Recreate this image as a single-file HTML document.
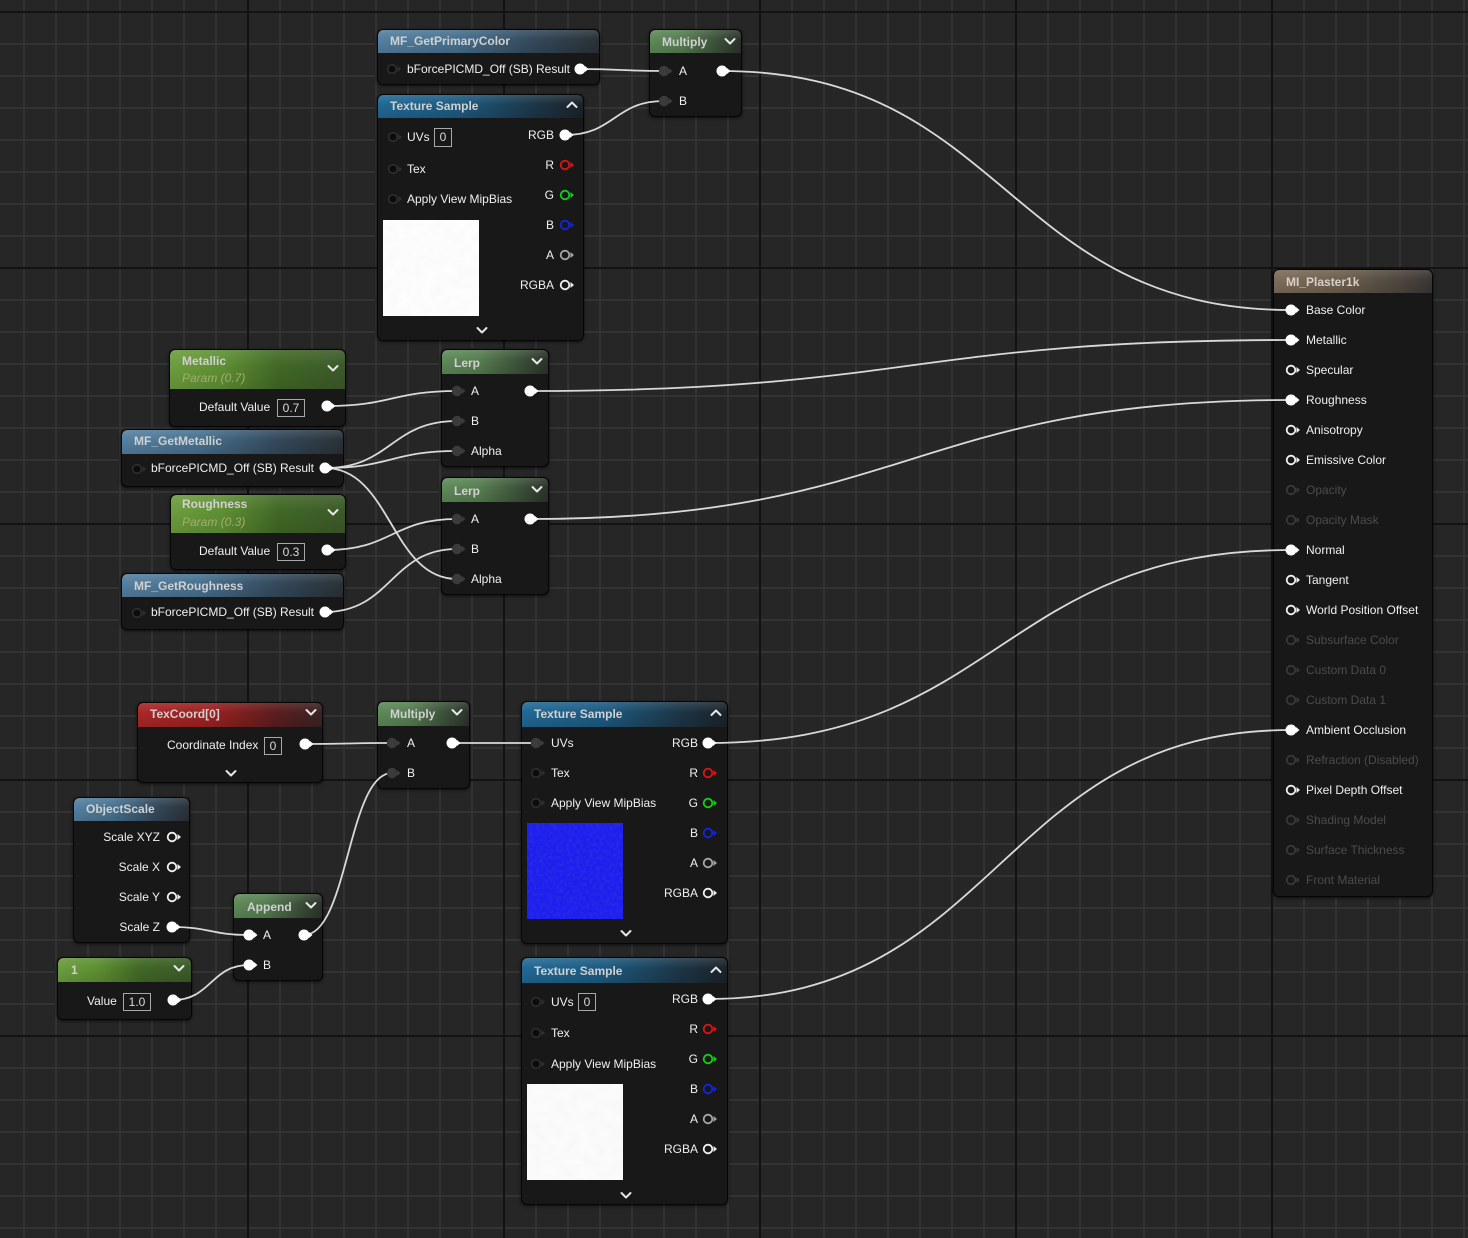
<!DOCTYPE html>
<html><head><meta charset="utf-8"><style>
*{box-sizing:border-box}
body{margin:0;width:1468px;height:1238px;overflow:hidden;position:relative;font-family:"Liberation Sans",sans-serif;
background-color:#262626;
background-image:
linear-gradient(to right,#131313 0,#131313 2px,transparent 2px),
linear-gradient(to bottom,#131313 0,#131313 2px,transparent 2px),
linear-gradient(to right,#333333 0,#333333 2px,transparent 2px),
linear-gradient(to bottom,#333333 0,#333333 2px,transparent 2px);
background-size:256px 256px,256px 256px,32px 32px,32px 32px;
background-position:247px 0,0 11px,23px 0,0 11px;}
.n{position:absolute;background:#171817;border:1px solid #060606;border-radius:6px;box-shadow:0 1px 3px rgba(0,0,0,.7);overflow:hidden}
.h{position:absolute;left:0;top:0;right:0;border-radius:5px 5px 0 0}
.hb{background:linear-gradient(180deg,rgba(255,255,255,.12),rgba(255,255,255,0) 40%,rgba(0,0,0,.12)),linear-gradient(90deg,#55809f 0%,#47718f 35%,#344a5c 70%,#2b3138 100%)}
.ht{background:linear-gradient(180deg,rgba(255,255,255,.12),rgba(255,255,255,0) 40%,rgba(0,0,0,.12)),linear-gradient(90deg,#216996 0%,#1d5a80 40%,#1d3546 78%,#1b2329 100%)}
.hg{background:linear-gradient(180deg,rgba(255,255,255,.12),rgba(255,255,255,0) 40%,rgba(0,0,0,.12)),linear-gradient(90deg,#5f8a59 0%,#567e51 35%,#3d533a 72%,#2b332b 100%)}
.hp{background:linear-gradient(180deg,rgba(255,255,255,.10),rgba(255,255,255,0) 40%,rgba(0,0,0,.10)),linear-gradient(90deg,#6c9d3d 0%,#5e8f33 30%,#416826 62%,#3c5a2a 100%)}
.hr{background:linear-gradient(180deg,rgba(255,255,255,.10),rgba(255,255,255,0) 40%,rgba(0,0,0,.12)),linear-gradient(90deg,#aa2727 0%,#9c2121 40%,#5c1d1d 75%,#3a2323 100%)}
.hm{background:linear-gradient(180deg,rgba(255,255,255,.10),rgba(255,255,255,0) 40%,rgba(0,0,0,.12)),linear-gradient(90deg,#7e6d5b 0%,#6f614f 40%,#4e473f 80%,#3a3632 100%)}
.t{position:absolute;font-weight:bold;font-size:12px;line-height:14px;color:#d0d0d0;white-space:nowrap}
.l{position:absolute;font-size:12px;line-height:14px;color:#f0f0f0;white-space:nowrap}
.d{color:#4b4b4b}
.pi{position:absolute;font-style:italic;font-size:12px;line-height:14px;color:#a0ad6c;white-space:nowrap}
.bx{position:absolute;border:1px solid #a8a8a8;color:#d8d8d8;font-size:12px;line-height:16px;text-align:center}
svg{position:absolute;left:0;top:0}
</style></head><body>

<!-- nodes -->
<div class="n" style="left:377px;top:29px;width:223px;height:56px"><div class="h hb" style="height:23px"></div></div>
<div class="n" style="left:649px;top:29px;width:93px;height:88px"><div class="h hg" style="height:23px"></div></div>
<div class="n" style="left:377px;top:94px;width:207px;height:247px"><div class="h ht" style="height:23px"></div></div>
<div class="n" style="left:1273px;top:269px;width:160px;height:628px"><div class="h hm" style="height:23px"></div></div>
<div class="n" style="left:169px;top:349px;width:177px;height:78px"><div class="h hp" style="height:39px"></div></div>
<div class="n" style="left:121px;top:429px;width:223px;height:58px"><div class="h hb" style="height:24px"></div></div>
<div class="n" style="left:170px;top:494px;width:176px;height:76px"><div class="h hp" style="height:38px"></div></div>
<div class="n" style="left:121px;top:573px;width:223px;height:57px"><div class="h hb" style="height:23px"></div></div>
<div class="n" style="left:441px;top:349px;width:108px;height:118px"><div class="h hg" style="height:24px"></div></div>
<div class="n" style="left:441px;top:477px;width:108px;height:118px"><div class="h hg" style="height:24px"></div></div>
<div class="n" style="left:137px;top:702px;width:186px;height:81px"><div class="h hr" style="height:24px"></div></div>
<div class="n" style="left:377px;top:701px;width:93px;height:88px"><div class="h hg" style="height:24px"></div></div>
<div class="n" style="left:73px;top:797px;width:117px;height:146px"><div class="h hb" style="height:23px"></div></div>
<div class="n" style="left:233px;top:893px;width:90px;height:88px"><div class="h hg" style="height:24px"></div></div>
<div class="n" style="left:57px;top:957px;width:135px;height:63px"><div class="h hp" style="height:24px"></div></div>
<div class="n" style="left:521px;top:701px;width:207px;height:243px"><div class="h ht" style="height:25px"></div></div>
<div class="n" style="left:521px;top:957px;width:207px;height:248px"><div class="h ht" style="height:25px"></div></div>

<svg width="1468" height="1238" viewBox="0 0 1468 1238">
<defs>
<filter id="nz1" x="0" y="0" width="1" height="1"><feTurbulence type="fractalNoise" baseFrequency="0.09" numOctaves="3" seed="2"/><feColorMatrix type="matrix" values="0 0 0 0 0.6  0 0 0 0 0.6  0 0 0 0 0.6  0 0 0 0.15 -0.05"/></filter>
<filter id="nz2" x="0" y="0" width="1" height="1"><feTurbulence type="fractalNoise" baseFrequency="0.3" numOctaves="2" seed="7"/><feColorMatrix type="matrix" values="0 0 0 0 0.05  0 0 0 0 0.05  0 0 0 0 0.55  1.0 0 0 0 -0.38"/></filter>
</defs>
<!-- textures -->
<rect x="383" y="220" width="96" height="96" fill="#fdfdfd"/>
<rect x="383" y="220" width="96" height="96" filter="url(#nz1)"/>
<rect x="527" y="823" width="96" height="96" fill="#1c1ef2"/>
<rect x="527" y="823" width="96" height="96" filter="url(#nz2)"/>
<rect x="527" y="1084" width="96" height="96" fill="#fbfbfb"/>
<rect x="527" y="1084" width="96" height="96" filter="url(#nz1)"/>

<!-- wires -->
<g fill="none" stroke="#d9d9d9" stroke-width="1.8">
<path d="M580 69 C622 69 622 71 664 71"/>
<path d="M565 135 C614.5 135 614.5 101 664 101"/>
<path d="M722 71 C1006.5 71 1006.5 310 1291 310"/>
<path d="M327 406 C392 406 392 391 457 391"/>
<path d="M325 468 C391 468 391 421 457 421"/>
<path d="M325 468 C391 468 391 451 457 451"/>
<path d="M325 468 C391 468 391 579 457 579"/>
<path d="M530 391 C910.5 391 910.5 340 1291 340"/>
<path d="M327 550 C392 550 392 519 457 519"/>
<path d="M325 612 C391 612 391 549 457 549"/>
<path d="M530 519 C910.5 519 910.5 400 1291 400"/>
<path d="M305 744 C348.5 744 348.5 743 392 743"/>
<path d="M304 935 C348 935 348 773 392 773"/>
<path d="M172 927 C210.5 927 210.5 935 249 935"/>
<path d="M173 1000 C211 1000 211 965 249 965"/>
<path d="M452 743 C494 743 494 743 536 743"/>
<path d="M708 743 C999.5 743 999.5 550 1291 550"/>
<path d="M708 999 C999.5 999 999.5 730 1291 730"/>
</g>

<!-- pins: unconnected inputs -->
<g fill="#0c0c0c" stroke="#303030" stroke-width="1.5">
<circle cx="392" cy="69" r="4.3"/>
<circle cx="393" cy="137" r="4.3"/><circle cx="393" cy="169" r="4.3"/><circle cx="393" cy="199" r="4.3"/>
<circle cx="137" cy="469" r="4.3"/><circle cx="137" cy="613" r="4.3"/>
<circle cx="536" cy="773" r="4.3"/><circle cx="536" cy="803" r="4.3"/>
<circle cx="536" cy="1002" r="4.3"/><circle cx="536" cy="1033" r="4.3"/><circle cx="536" cy="1064" r="4.3"/>
</g>
<g fill="#303030">
<path d="M397.5 66l3.5 3-3.5 3z"/>
<path d="M398.5 134l3.5 3-3.5 3z"/><path d="M398.5 166l3.5 3-3.5 3z"/><path d="M398.5 196l3.5 3-3.5 3z"/>
<path d="M142.5 466l3.5 3-3.5 3z"/><path d="M142.5 610l3.5 3-3.5 3z"/>
<path d="M541.5 770l3.5 3-3.5 3z"/><path d="M541.5 800l3.5 3-3.5 3z"/>
<path d="M541.5 999l3.5 3-3.5 3z"/><path d="M541.5 1030l3.5 3-3.5 3z"/><path d="M541.5 1061l3.5 3-3.5 3z"/>
</g>
<!-- connected grey inputs -->
<g fill="#3b3b3b">
<circle cx="664" cy="71" r="5.2"/><path d="M669 68l3.5 3-3.5 3z"/>
<circle cx="664" cy="101" r="5.2"/><path d="M669 98l3.5 3-3.5 3z"/>
<circle cx="457" cy="391" r="5.2"/><path d="M462 388l3.5 3-3.5 3z"/>
<circle cx="457" cy="421" r="5.2"/><path d="M462 418l3.5 3-3.5 3z"/>
<circle cx="457" cy="451" r="5.2"/><path d="M462 448l3.5 3-3.5 3z"/>
<circle cx="457" cy="519" r="5.2"/><path d="M462 516l3.5 3-3.5 3z"/>
<circle cx="457" cy="549" r="5.2"/><path d="M462 546l3.5 3-3.5 3z"/>
<circle cx="457" cy="579" r="5.2"/><path d="M462 576l3.5 3-3.5 3z"/>
<circle cx="392" cy="743" r="5.2"/><path d="M397 740l3.5 3-3.5 3z"/>
<circle cx="392" cy="773" r="5.2"/><path d="M397 770l3.5 3-3.5 3z"/>
<circle cx="536" cy="743" r="5.2"/><path d="M541 740l3.5 3-3.5 3z"/>
</g>
<!-- white filled -->
<g fill="#ffffff">
<circle cx="580" cy="69" r="5.5"/><path d="M585 66l3.5 3-3.5 3z"/>
<circle cx="722" cy="71" r="5.5"/><path d="M727 68l3.5 3-3.5 3z"/>
<circle cx="565" cy="135" r="5.5"/><path d="M570 132l3.5 3-3.5 3z"/>
<circle cx="327" cy="406" r="5.5"/><path d="M332 403l3.5 3-3.5 3z"/>
<circle cx="325" cy="468" r="5.5"/><path d="M330 465l3.5 3-3.5 3z"/>
<circle cx="327" cy="550" r="5.5"/><path d="M332 547l3.5 3-3.5 3z"/>
<circle cx="325" cy="612" r="5.5"/><path d="M330 609l3.5 3-3.5 3z"/>
<circle cx="530" cy="391" r="5.5"/><path d="M535 388l3.5 3-3.5 3z"/>
<circle cx="530" cy="519" r="5.5"/><path d="M535 516l3.5 3-3.5 3z"/>
<circle cx="305" cy="744" r="5.5"/><path d="M310 741l3.5 3-3.5 3z"/>
<circle cx="452" cy="743" r="5.5"/><path d="M457 740l3.5 3-3.5 3z"/>
<circle cx="172" cy="927" r="5.5"/><path d="M177 924l3.5 3-3.5 3z"/>
<circle cx="249" cy="935" r="5.5"/><path d="M254 932l3.5 3-3.5 3z"/>
<circle cx="249" cy="965" r="5.5"/><path d="M254 962l3.5 3-3.5 3z"/>
<circle cx="304" cy="935" r="5.5"/><path d="M309 932l3.5 3-3.5 3z"/>
<circle cx="173" cy="1000" r="5.5"/><path d="M178 997l3.5 3-3.5 3z"/>
<circle cx="708" cy="743" r="5.5"/><path d="M713 740l3.5 3-3.5 3z"/>
<circle cx="708" cy="999" r="5.5"/><path d="M713 996l3.5 3-3.5 3z"/>
<circle cx="1291" cy="310" r="5.5"/><path d="M1296 307l3.5 3-3.5 3z"/>
<circle cx="1291" cy="340" r="5.5"/><path d="M1296 337l3.5 3-3.5 3z"/>
<circle cx="1291" cy="400" r="5.5"/><path d="M1296 397l3.5 3-3.5 3z"/>
<circle cx="1291" cy="550" r="5.5"/><path d="M1296 547l3.5 3-3.5 3z"/>
<circle cx="1291" cy="730" r="5.5"/><path d="M1296 727l3.5 3-3.5 3z"/>
</g>
<!-- white rings -->
<g fill="none" stroke="#f0f0f0" stroke-width="1.8">
<circle cx="565" cy="285" r="4.3"/><circle cx="708" cy="893" r="4.3"/><circle cx="708" cy="1149" r="4.3"/>
<circle cx="172" cy="837" r="4.3"/><circle cx="172" cy="867" r="4.3"/><circle cx="172" cy="897" r="4.3"/>
<circle cx="1291" cy="370" r="4.3"/><circle cx="1291" cy="430" r="4.3"/><circle cx="1291" cy="460" r="4.3"/>
<circle cx="1291" cy="580" r="4.3"/><circle cx="1291" cy="610" r="4.3"/><circle cx="1291" cy="790" r="4.3"/>
</g>
<g fill="#f0f0f0">
<path d="M570.5 282l3.5 3-3.5 3z"/><path d="M713.5 890l3.5 3-3.5 3z"/><path d="M713.5 1146l3.5 3-3.5 3z"/>
<path d="M177.5 834l3.5 3-3.5 3z"/><path d="M177.5 864l3.5 3-3.5 3z"/><path d="M177.5 894l3.5 3-3.5 3z"/>
<path d="M1296.5 367l3.5 3-3.5 3z"/><path d="M1296.5 427l3.5 3-3.5 3z"/><path d="M1296.5 457l3.5 3-3.5 3z"/>
<path d="M1296.5 577l3.5 3-3.5 3z"/><path d="M1296.5 607l3.5 3-3.5 3z"/><path d="M1296.5 787l3.5 3-3.5 3z"/>
</g>
<!-- grey A rings -->
<g fill="none" stroke="#a6a6a6" stroke-width="1.8">
<circle cx="565" cy="255" r="4.3"/><circle cx="708" cy="863" r="4.3"/><circle cx="708" cy="1119" r="4.3"/>
</g>
<g fill="#a6a6a6"><path d="M570.5 252l3.5 3-3.5 3z"/><path d="M713.5 860l3.5 3-3.5 3z"/><path d="M713.5 1116l3.5 3-3.5 3z"/></g>
<!-- red -->
<g fill="none" stroke="#e01212" stroke-width="1.8"><circle cx="565" cy="165" r="4.3"/><circle cx="708" cy="773" r="4.3"/><circle cx="708" cy="1029" r="4.3"/></g>
<g fill="#e01212"><path d="M570.5 162l3.5 3-3.5 3z"/><path d="M713.5 770l3.5 3-3.5 3z"/><path d="M713.5 1026l3.5 3-3.5 3z"/></g>
<!-- green -->
<g fill="none" stroke="#12d012" stroke-width="1.8"><circle cx="565" cy="195" r="4.3"/><circle cx="708" cy="803" r="4.3"/><circle cx="708" cy="1059" r="4.3"/></g>
<g fill="#12d012"><path d="M570.5 192l3.5 3-3.5 3z"/><path d="M713.5 800l3.5 3-3.5 3z"/><path d="M713.5 1056l3.5 3-3.5 3z"/></g>
<!-- blue -->
<g fill="none" stroke="#1424e6" stroke-width="1.8"><circle cx="565" cy="225" r="4.3"/><circle cx="708" cy="833" r="4.3"/><circle cx="708" cy="1089" r="4.3"/></g>
<g fill="#1424e6"><path d="M570.5 222l3.5 3-3.5 3z"/><path d="M713.5 830l3.5 3-3.5 3z"/><path d="M713.5 1086l3.5 3-3.5 3z"/></g>
<!-- disabled MI rings -->
<g fill="none" stroke="#383838" stroke-width="1.8">
<circle cx="1291" cy="490" r="4.3"/><circle cx="1291" cy="520" r="4.3"/><circle cx="1291" cy="640" r="4.3"/>
<circle cx="1291" cy="670" r="4.3"/><circle cx="1291" cy="700" r="4.3"/><circle cx="1291" cy="760" r="4.3"/>
<circle cx="1291" cy="820" r="4.3"/><circle cx="1291" cy="850" r="4.3"/><circle cx="1291" cy="880" r="4.3"/>
</g>
<g fill="#383838">
<path d="M1296.5 487l3.5 3-3.5 3z"/><path d="M1296.5 517l3.5 3-3.5 3z"/><path d="M1296.5 637l3.5 3-3.5 3z"/>
<path d="M1296.5 667l3.5 3-3.5 3z"/><path d="M1296.5 697l3.5 3-3.5 3z"/><path d="M1296.5 757l3.5 3-3.5 3z"/>
<path d="M1296.5 817l3.5 3-3.5 3z"/><path d="M1296.5 847l3.5 3-3.5 3z"/><path d="M1296.5 877l3.5 3-3.5 3z"/>
</g>
<!-- chevrons -->
<g fill="none" stroke="#e6e6e6" stroke-width="2" stroke-linecap="round" stroke-linejoin="round">
<polyline points="725.5,39 730,43.5 734.5,39"/>
<polyline points="567.5,107 572,102.5 576.5,107"/>
<polyline points="477.5,328 482,332.5 486.5,328"/>
<polyline points="328.5,366 333,370.5 337.5,366"/>
<polyline points="328.5,510 333,514.5 337.5,510"/>
<polyline points="532.5,359 537,363.5 541.5,359"/>
<polyline points="532.5,487 537,491.5 541.5,487"/>
<polyline points="306.5,710 311,714.5 315.5,710"/>
<polyline points="226.5,771 231,775.5 235.5,771"/>
<polyline points="452.5,710 457,714.5 461.5,710"/>
<polyline points="306.5,903 311,907.5 315.5,903"/>
<polyline points="174.5,966 179,970.5 183.5,966"/>
<polyline points="711.5,715 716,710.5 720.5,715"/>
<polyline points="621.5,931 626,935.5 630.5,931"/>
<polyline points="711.5,972 716,967.5 720.5,972"/>
<polyline points="621.5,1193 626,1197.5 630.5,1193"/>
</g>
</svg>

<!-- header titles -->
<div class="t" style="left:390px;top:34px">MF_GetPrimaryColor</div>
<div class="t" style="left:662px;top:35px">Multiply</div>
<div class="t" style="left:390px;top:99px">Texture Sample</div>
<div class="t" style="left:1286px;top:275px;color:#d8d0c6">MI_Plaster1k</div>
<div class="t" style="left:182px;top:354px">Metallic</div>
<div class="pi" style="left:182px;top:371px">Param (0.7)</div>
<div class="t" style="left:134px;top:434px">MF_GetMetallic</div>
<div class="t" style="left:182px;top:497px">Roughness</div>
<div class="pi" style="left:182px;top:515px">Param (0.3)</div>
<div class="t" style="left:134px;top:579px">MF_GetRoughness</div>
<div class="t" style="left:454px;top:356px">Lerp</div>
<div class="t" style="left:454px;top:484px">Lerp</div>
<div class="t" style="left:150px;top:707px">TexCoord[0]</div>
<div class="t" style="left:390px;top:707px">Multiply</div>
<div class="t" style="left:86px;top:802px">ObjectScale</div>
<div class="t" style="left:247px;top:900px">Append</div>
<div class="t" style="left:71px;top:963px">1</div>
<div class="t" style="left:534px;top:707px">Texture Sample</div>
<div class="t" style="left:534px;top:964px">Texture Sample</div>

<!-- row labels -->
<div class="l" style="left:407px;top:62px">bForcePICMD_Off (SB)</div>
<div class="l" style="right:898px;top:62px">Result</div>
<div class="l" style="left:679px;top:64px">A</div>
<div class="l" style="left:679px;top:94px">B</div>

<div class="l" style="left:407px;top:130px">UVs</div>
<div class="bx" style="left:434px;top:128px;width:18px;height:19px">0</div>
<div class="l" style="left:407px;top:162px">Tex</div>
<div class="l" style="left:407px;top:192px">Apply View MipBias</div>
<div class="l" style="right:914px;top:128px">RGB</div>
<div class="l" style="right:914px;top:158px">R</div>
<div class="l" style="right:914px;top:188px">G</div>
<div class="l" style="right:914px;top:218px">B</div>
<div class="l" style="right:914px;top:248px">A</div>
<div class="l" style="right:914px;top:278px">RGBA</div>

<div class="l" style="left:199px;top:400px">Default Value</div>
<div class="bx" style="left:277px;top:399px;width:28px;height:18px">0.7</div>
<div class="l" style="left:151px;top:461px">bForcePICMD_Off (SB)</div>
<div class="l" style="right:1154px;top:461px">Result</div>
<div class="l" style="left:199px;top:544px">Default Value</div>
<div class="bx" style="left:277px;top:543px;width:28px;height:18px">0.3</div>
<div class="l" style="left:151px;top:605px">bForcePICMD_Off (SB)</div>
<div class="l" style="right:1154px;top:605px">Result</div>

<div class="l" style="left:471px;top:384px">A</div>
<div class="l" style="left:471px;top:414px">B</div>
<div class="l" style="left:471px;top:444px">Alpha</div>
<div class="l" style="left:471px;top:512px">A</div>
<div class="l" style="left:471px;top:542px">B</div>
<div class="l" style="left:471px;top:572px">Alpha</div>

<div class="l" style="left:167px;top:738px">Coordinate Index</div>
<div class="bx" style="left:264px;top:737px;width:18px;height:18px">0</div>
<div class="l" style="left:407px;top:736px">A</div>
<div class="l" style="left:407px;top:766px">B</div>

<div class="l" style="right:1308px;top:830px">Scale XYZ</div>
<div class="l" style="right:1308px;top:860px">Scale X</div>
<div class="l" style="right:1308px;top:890px">Scale Y</div>
<div class="l" style="right:1308px;top:920px">Scale Z</div>
<div class="l" style="left:263px;top:928px">A</div>
<div class="l" style="left:263px;top:958px">B</div>
<div class="l" style="left:87px;top:994px">Value</div>
<div class="bx" style="left:123px;top:993px;width:28px;height:18px">1.0</div>

<div class="l" style="left:551px;top:736px">UVs</div>
<div class="l" style="left:551px;top:766px">Tex</div>
<div class="l" style="left:551px;top:796px">Apply View MipBias</div>
<div class="l" style="right:770px;top:736px">RGB</div>
<div class="l" style="right:770px;top:766px">R</div>
<div class="l" style="right:770px;top:796px">G</div>
<div class="l" style="right:770px;top:826px">B</div>
<div class="l" style="right:770px;top:856px">A</div>
<div class="l" style="right:770px;top:886px">RGBA</div>

<div class="l" style="left:551px;top:995px">UVs</div>
<div class="bx" style="left:578px;top:993px;width:18px;height:18px">0</div>
<div class="l" style="left:551px;top:1026px">Tex</div>
<div class="l" style="left:551px;top:1057px">Apply View MipBias</div>
<div class="l" style="right:770px;top:992px">RGB</div>
<div class="l" style="right:770px;top:1022px">R</div>
<div class="l" style="right:770px;top:1052px">G</div>
<div class="l" style="right:770px;top:1082px">B</div>
<div class="l" style="right:770px;top:1112px">A</div>
<div class="l" style="right:770px;top:1142px">RGBA</div>

<!-- MI_Plaster1k pins -->
<div class="l" style="left:1306px;top:303px">Base Color</div>
<div class="l" style="left:1306px;top:333px">Metallic</div>
<div class="l" style="left:1306px;top:363px">Specular</div>
<div class="l" style="left:1306px;top:393px">Roughness</div>
<div class="l" style="left:1306px;top:423px">Anisotropy</div>
<div class="l" style="left:1306px;top:453px">Emissive Color</div>
<div class="l d" style="left:1306px;top:483px">Opacity</div>
<div class="l d" style="left:1306px;top:513px">Opacity Mask</div>
<div class="l" style="left:1306px;top:543px">Normal</div>
<div class="l" style="left:1306px;top:573px">Tangent</div>
<div class="l" style="left:1306px;top:603px">World Position Offset</div>
<div class="l d" style="left:1306px;top:633px">Subsurface Color</div>
<div class="l d" style="left:1306px;top:663px">Custom Data 0</div>
<div class="l d" style="left:1306px;top:693px">Custom Data 1</div>
<div class="l" style="left:1306px;top:723px">Ambient Occlusion</div>
<div class="l d" style="left:1306px;top:753px">Refraction (Disabled)</div>
<div class="l" style="left:1306px;top:783px">Pixel Depth Offset</div>
<div class="l d" style="left:1306px;top:813px">Shading Model</div>
<div class="l d" style="left:1306px;top:843px">Surface Thickness</div>
<div class="l d" style="left:1306px;top:873px">Front Material</div>
</body></html>
